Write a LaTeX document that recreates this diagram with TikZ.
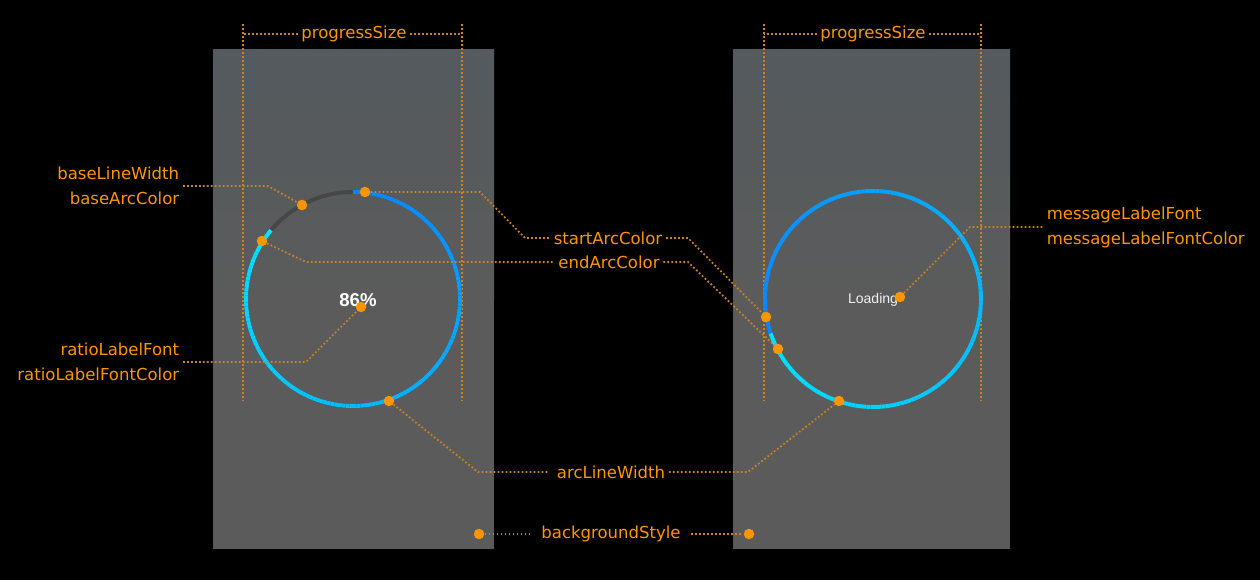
\documentclass[tikz,border=0pt]{standalone}
\usepackage{fontspec}
\setmainfont{DejaVu Sans}
\newfontfamily\uifont{Liberation Sans}

\definecolor{tagorange}{HTML}{FF9500}
\definecolor{leadorange}{HTML}{C98224}
\definecolor{panelgray}{HTML}{5B5B5B}
\definecolor{paneltop}{HTML}{545A5E}
\definecolor{basegray}{HTML}{474747}
\definecolor{arcblue}{HTML}{0A84FF}
\definecolor{arccyan}{HTML}{00E5FF}

\begin{document}
\begin{tikzpicture}[x=0.02cm, y=-0.02cm,
        tag/.style={text=tagorange, font=\fontsize{9.4}{14.2}\selectfont, inner sep=2pt},
        leader/.style={draw=leadorange, line width=0.035cm, dash pattern=on 0.035cm off 0.045cm},
        dot/.style={circle, fill=tagorange, inner sep=0pt, minimum size=0.21cm},
        ring/.style={line width=0.08cm}]

        % Background
        \useasboundingbox (0,0) rectangle (1260,580);
        \fill [black] (0,0) rectangle (1260,580);

        % Panels
        \fill [panelgray] (213,50) rectangle (494,549);
        \shade [top color=paneltop, bottom color=panelgray] (213,50) rectangle (494,300);
        \fill [panelgray] (733,50) rectangle (1010,549);
        \shade [top color=paneltop, bottom color=panelgray] (733,50) rectangle (1010,300);

        % Size guides
        \draw [leader] (243,24) -- (243,400);
        \draw [leader] (462,24) -- (462,400);
        \draw [leader] (764,24) -- (764,400);
        \draw [leader] (981,24) -- (981,400);

        % Left ring (86%)
        \draw [ring, basegray] (353,299) circle [radius=2.14cm];
        \foreach \i in {0,...,154} {
            \pgfmathsetmacro\a{90-2*\i}
            \pgfmathtruncatemacro\p{\i/154*100}
            \draw [ring, arccyan!\p!arcblue] ({353+107*cos(\a)},{299-107*sin(\a)}) -- ({353+107*cos(\a-2)},{299-107*sin(\a-2)});
        }

        % Right ring (loading)
        \foreach \i in {0,...,179} {
            \pgfmathsetmacro\a{198.6-2*\i}
            \pgfmathtruncatemacro\p{\i/179*100}
            \draw [ring, arccyan!\p!arcblue] ({873+108*cos(\a)},{299-108*sin(\a)}) -- ({873+108*cos(\a-2)},{299-108*sin(\a-2)});
        }

        % Texts in the rings
        \node [text=white, font=\uifont\bfseries\fontsize{10.6}{12}\selectfont, inner sep=0pt] (ratioText) at (358,300) {86\%};
        \node [text=white!94!black, font=\uifont\fontsize{8}{10}\selectfont, inner sep=0pt] (loadText) at (873,300) {Loading};

        % Labels
        \node [tag] (sizeL) at (354,34) {progressSize};
        \node [tag] (sizeR) at (873,34) {progressSize};
        \node [tag, align=right, anchor=east] (baseLbl) at (183,186) {baseLineWidth\\baseArcColor};
        \node [tag] (startLbl) at (608,238) {startArcColor};
        \node [tag] (endLbl) at (609,262) {endArcColor};
        \node [tag, align=right, anchor=east] (ratioLbl) at (183,362) {ratioLabelFont\\ratioLabelFontColor};
        \node [tag] (widthLbl) at (611,472) {arcLineWidth};
        \node [tag] (bgLbl) at (611,534) {backgroundStyle};
        \node [tag, align=left, anchor=west] (msgLbl) at (1043,227) {messageLabelFont\\messageLabelFontColor};

        % Dots
        \node [dot] (baseDot) at (302,205) {};
        \node [dot] (startDotL) at (365,192) {};
        \node [dot] (endDotL) at (262,241) {};
        \node [dot] (ratioDot) at (361,307) {};
        \node [dot] (widthDotL) at (389,401) {};
        \node [dot] (startDotR) at (766,317) {};
        \node [dot] (endDotR) at (778,349) {};
        \node [dot] (msgDot) at (900,297) {};
        \node [dot] (widthDotR) at (839,401) {};
        \node [dot] (bgDotL) at (479,534) {};
        \node [dot] (bgDotR) at (749,534) {};

        % Leaders
        \draw [leader] (sizeL.west) -- (243,34);
        \draw [leader] (sizeL.east) -- (462,34);
        \draw [leader] (sizeR.west) -- (764,34);
        \draw [leader] (sizeR.east) -- (981,34);
        \draw [leader] (baseLbl.east) -- (268,186) -- (baseDot);
        \draw [leader] (startDotL) -- (480,192) -- (525,238) -- (startLbl.west);
        \draw [leader] (startLbl.east) -- (688,238) -- (startDotR);
        \draw [leader] (endDotL) -- (306,262) -- (endLbl.west);
        \draw [leader] (endLbl.east) -- (688,262) -- (endDotR);
        \draw [leader] (ratioLbl.east) -- (306,362) -- (ratioDot);
        \draw [leader] (widthDotL) -- (478,472) -- ([xshift=-3pt]widthLbl.west);
        \draw [leader] (widthLbl.east) -- (748,472) -- (widthDotR);
        \draw [leader] (bgDotL) -- ([xshift=-4pt]bgLbl.west);
        \draw [leader] ([xshift=4pt]bgLbl.east) -- (bgDotR);
        \draw [leader] (msgDot) -- (970,227) -- (msgLbl.west);

\end{tikzpicture}
\end{document}
